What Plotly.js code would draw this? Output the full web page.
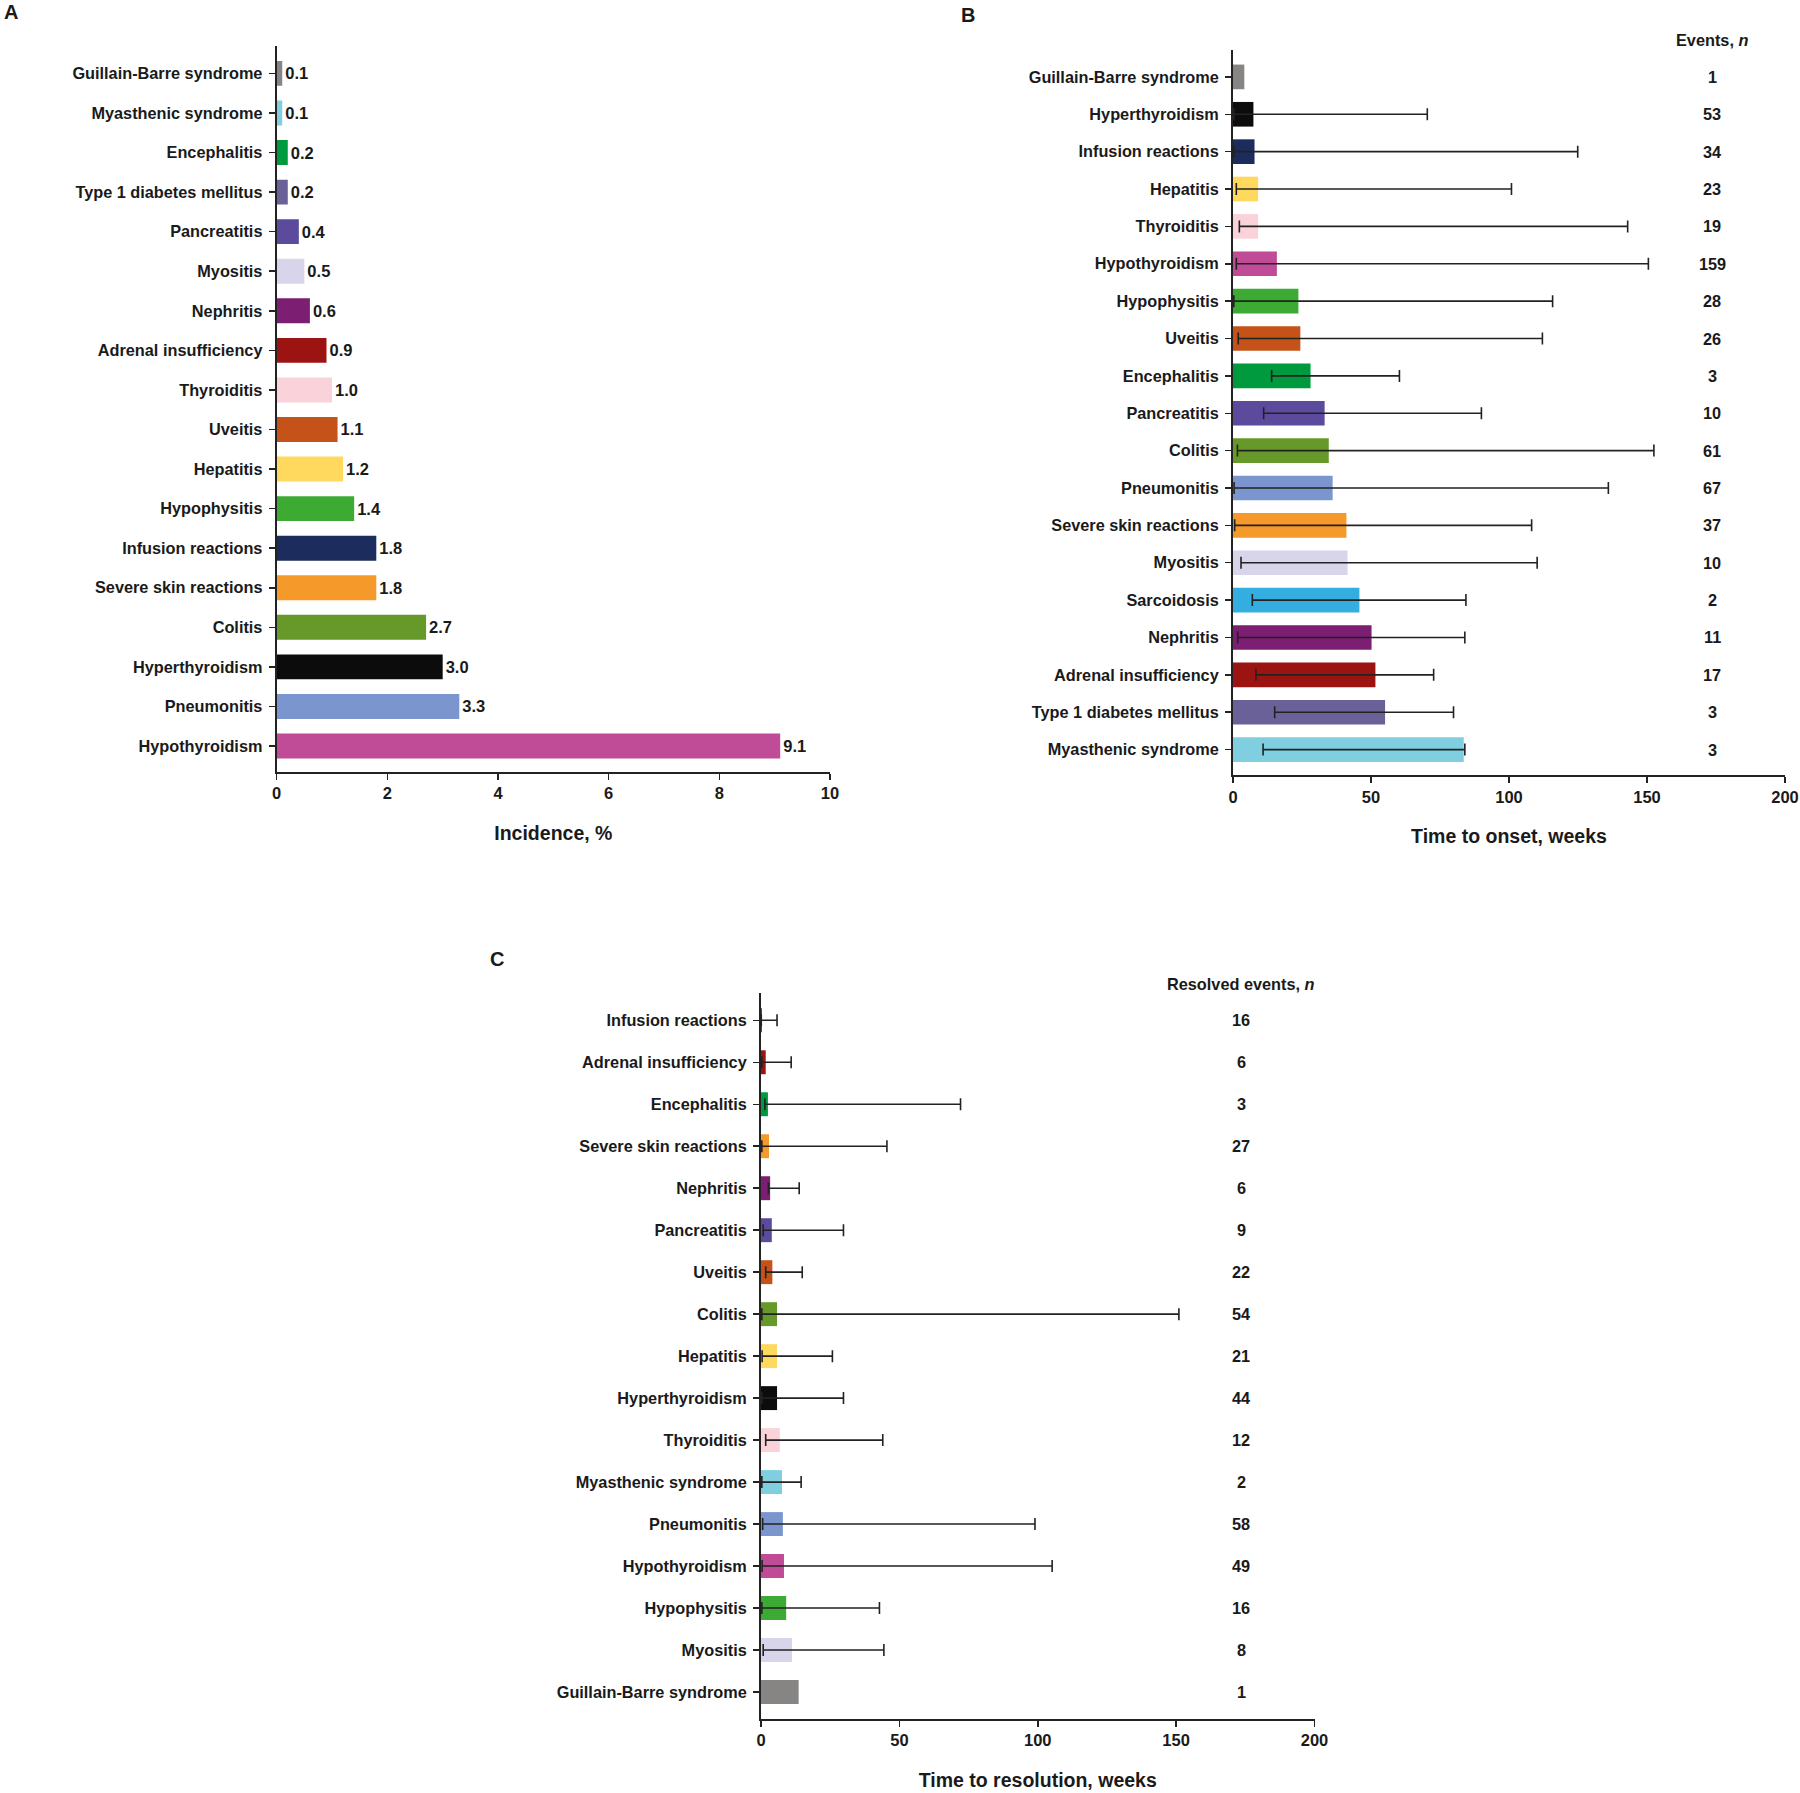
<!DOCTYPE html>
<html><head><meta charset="utf-8">
<script src="https://cdn.plot.ly/plotly-3.0.1.min.js"></script>
<style>html,body{margin:0;padding:0;background:#fff}</style>
</head><body><div id="chart" style="width:1800px;height:1793px"></div>
<script>
// ---------- Data ----------
const categoriesA = ["Guillain-Barre syndrome","Myasthenic syndrome","Encephalitis","Type 1 diabetes mellitus","Pancreatitis","Myositis","Nephritis","Adrenal insufficiency","Thyroiditis","Uveitis","Hepatitis","Hypophysitis","Infusion reactions","Severe skin reactions","Colitis","Hyperthyroidism","Pneumonitis","Hypothyroidism"];
const incidenceA = [0.1,0.1,0.2,0.2,0.4,0.5,0.6,0.9,1.0,1.1,1.2,1.4,1.8,1.8,2.7,3.0,3.3,9.1];

const categoriesB = ["Guillain-Barre syndrome","Hyperthyroidism","Infusion reactions","Hepatitis","Thyroiditis","Hypothyroidism","Hypophysitis","Uveitis","Encephalitis","Pancreatitis","Colitis","Pneumonitis","Severe skin reactions","Myositis","Sarcoidosis","Nephritis","Adrenal insufficiency","Type 1 diabetes mellitus","Myasthenic syndrome"];
const onsetMedianB = [4.1,7.4,7.8,9.1,9.1,15.9,23.7,24.4,28.1,33.2,34.7,36.1,41.1,41.5,45.8,50.2,51.6,55.1,83.6];
const onsetMinB = [null,0.3,0.3,1.2,2.3,1.2,0.3,1.9,14.0,11.1,1.6,0.4,0.6,2.9,7.0,1.7,8.3,15.1,10.9];
const onsetMaxB = [null,70.4,124.9,100.9,143.0,150.5,115.8,112.1,60.3,90.0,152.5,136.0,108.2,110.2,84.4,84.0,72.7,79.9,84.0];
const eventsB = [1,53,34,23,19,159,28,26,3,10,61,67,37,10,2,11,17,3,3];

const categoriesC = ["Infusion reactions","Adrenal insufficiency","Encephalitis","Severe skin reactions","Nephritis","Pancreatitis","Uveitis","Colitis","Hepatitis","Hyperthyroidism","Thyroiditis","Myasthenic syndrome","Pneumonitis","Hypothyroidism","Hypophysitis","Myositis","Guillain-Barre syndrome"];
const resolutionMedianC = [0.3,1.7,2.5,2.9,3.3,3.9,4.1,5.8,5.8,5.8,6.8,7.6,7.9,8.3,9.1,11.2,13.6];
const resolutionMinC = [0.1,0.3,1.4,0.3,2.7,0.8,1.7,0.3,0.4,0.3,1.7,0.3,0.6,0.4,0.3,0.8,null];
const resolutionMaxC = [5.8,10.9,72.1,45.5,13.8,29.8,14.9,151.0,25.8,29.8,44.0,14.5,99.0,105.2,42.8,44.4,null];
const resolvedEventsC = [16,6,3,27,6,9,22,54,21,44,12,2,58,49,16,8,1];

const xTicksA = [0,2,4,6,8,10];
const xTicksBC = [0,50,100,150,200];

// ---------- Styles ----------
const colorMap = {
  "Guillain-Barre syndrome":"#878484",
  "Myasthenic syndrome":"#7fcfe0",
  "Encephalitis":"#009a3e",
  "Type 1 diabetes mellitus":"#6a6199",
  "Pancreatitis":"#5c4a9c",
  "Myositis":"#d8d5ea",
  "Nephritis":"#7c1e72",
  "Adrenal insufficiency":"#9c1411",
  "Thyroiditis":"#f9d3d9",
  "Uveitis":"#c55218",
  "Hepatitis":"#ffd95e",
  "Hypophysitis":"#3dab33",
  "Infusion reactions":"#1b2c5d",
  "Severe skin reactions":"#f5992b",
  "Colitis":"#67982a",
  "Hyperthyroidism":"#0b0c0b",
  "Pneumonitis":"#7b96cf",
  "Hypothyroidism":"#c04b96",
  "Sarcoidosis":"#34ade1"
};
const FONT = "Liberation Sans, Arial, sans-serif";
const TXT = "#1a1a1a";
const LINE = "#222222";
const W = 1800, H = 1793;
const px = v => v / W;
const py = v => 1 - v / H;

function errPlus(med, max) { return med.map((m,i) => max[i] == null ? NaN : max[i] - m); }
function errMinus(med, min) { return med.map((m,i) => min[i] == null ? NaN : m - min[i]); }

function yAxis(cats, range, domain, anchor) {
  return {
    domain, anchor, type:'category', categoryorder:'array', categoryarray:cats, range,
    showline:true, linecolor:LINE, linewidth:2, ticks:'outside', ticklen:6, tickwidth:1.5, tickcolor:LINE,
    tickfont:{family:FONT, size:16.3, color:TXT, weight:700}, ticklabelstandoff:3,
    showgrid:false, zeroline:false, fixedrange:true, automargin:false
  };
}
function xAxis(range, tickvals, domain, anchor, title) {
  return {
    domain, anchor, range, tickmode:'array', tickvals, ticktext:tickvals.map(String),
    showline:true, linecolor:LINE, linewidth:2, ticks:'outside', ticklen:6, tickwidth:1.5, tickcolor:LINE,
    tickfont:{family:FONT, size:16.5, color:TXT, weight:700},
    showgrid:false, zeroline:false, fixedrange:true, automargin:false,
    title:{text:title, font:{family:FONT, size:19.5, color:TXT, weight:700}, standoff:25}
  };
}

const traceA = {
  type:'bar', orientation:'h', x:incidenceA, y:categoriesA, xaxis:'x', yaxis:'y',
  width:0.63, marker:{color:categoriesA.map(c => colorMap[c])},
  text:incidenceA.map(v => v.toFixed(1)), textposition:'outside', constraintext:'none', cliponaxis:false,
  textfont:{family:FONT, size:16.5, color:TXT, weight:700}, hoverinfo:'skip'
};
const errStyle = {type:'data', symmetric:false, color:LINE, thickness:1.6, width:6};
const traceB = {
  type:'bar', orientation:'h', x:onsetMedianB, y:categoriesB, xaxis:'x2', yaxis:'y2',
  width:0.66, marker:{color:categoriesB.map(c => colorMap[c])},
  error_x:Object.assign({array:errPlus(onsetMedianB, onsetMaxB), arrayminus:errMinus(onsetMedianB, onsetMinB)}, errStyle),
  cliponaxis:false, hoverinfo:'skip'
};
const traceC = {
  type:'bar', orientation:'h', x:resolutionMedianC, y:categoriesC, xaxis:'x3', yaxis:'y3',
  width:0.57, marker:{color:categoriesC.map(c => colorMap[c])},
  error_x:Object.assign({array:errPlus(resolutionMedianC, resolutionMaxC), arrayminus:errMinus(resolutionMedianC, resolutionMinC)}, errStyle),
  cliponaxis:false, hoverinfo:'skip'
};

const annotations = [];
const letterFont = {family:FONT, size:20, color:TXT, weight:700};
annotations.push({text:'A', xref:'paper', yref:'paper', x:px(2), y:py(12.5), xanchor:'left', yanchor:'middle', showarrow:false, font:letterFont});
annotations.push({text:'B', xref:'paper', yref:'paper', x:px(959), y:py(15), xanchor:'left', yanchor:'middle', showarrow:false, font:letterFont});
annotations.push({text:'C', xref:'paper', yref:'paper', x:px(488), y:py(959), xanchor:'left', yanchor:'middle', showarrow:false, font:letterFont});

const hdrFont = {family:FONT, size:16.3, color:TXT, weight:700};
const numFont = {family:FONT, size:16.3, color:TXT, weight:700};
annotations.push({text:'Events, <i>n</i>', xref:'paper', yref:'paper', x:px(1712), y:py(40), xanchor:'center', yanchor:'middle', showarrow:false, font:hdrFont});
eventsB.forEach((n,i) => annotations.push({text:String(n), xref:'paper', yref:'y2', x:px(1712), y:i, xanchor:'center', yanchor:'middle', showarrow:false, font:numFont}));
annotations.push({text:'Resolved events, <i>n</i>', xref:'paper', yref:'paper', x:px(1241), y:py(984), xanchor:'center', yanchor:'middle', showarrow:false, font:hdrFont});
resolvedEventsC.forEach((n,i) => annotations.push({text:String(n), xref:'paper', yref:'y3', x:px(1241), y:i, xanchor:'center', yanchor:'middle', showarrow:false, font:numFont}));

const layout = {
  width:W, height:H, margin:{l:0, r:0, t:0, b:0}, paper_bgcolor:'#ffffff', plot_bgcolor:'#ffffff',
  showlegend:false, font:{family:FONT, color:TXT},
  xaxis: xAxis([0,10], xTicksA, [px(276.7), px(830)], 'y', 'Incidence, %'),
  yaxis: yAxis(categoriesA, [17.644, -0.70], [py(771.5), py(45.7)], 'x'),
  xaxis2: xAxis([0,200], xTicksBC, [px(1233), px(1785)], 'y2', 'Time to onset, weeks'),
  yaxis2: yAxis(categoriesB, [18.68, -0.72], [py(775), py(50)], 'x2'),
  xaxis3: xAxis([0,200], xTicksBC, [px(761), px(1314.5)], 'y3', 'Time to resolution, weeks'),
  yaxis3: yAxis(categoriesC, [16.634, -0.65], [py(1718.6), py(993)], 'x3'),
  annotations
};

Plotly.newPlot('chart', [traceA, traceB, traceC], layout, {staticPlot:true, displayModeBar:false});
</script></body></html>
